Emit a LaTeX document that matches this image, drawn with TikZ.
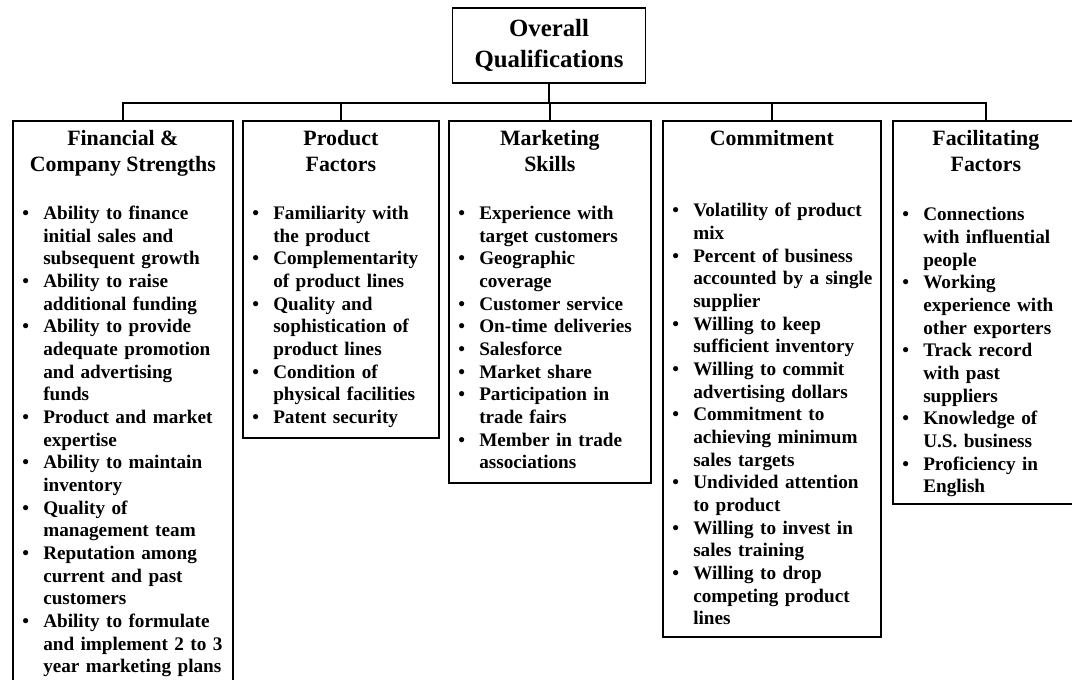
\documentclass[tikz,border=0pt]{standalone}
\usepackage{fontspec}
\setmainfont{Liberation Serif}
\usetikzlibrary{positioning}
\tikzset{
	catbox/.style 2 args={draw,line width=1.3pt,anchor=north west,inner sep=0pt,minimum width=#1,minimum height=#2},
	head/.style={font=\fontsize{16.4}{20}\selectfont\bfseries,align=center,inner sep=0pt},
	items/.style={font=\fontsize{14.4}{17}\selectfont\bfseries,text width=#1,align=left,inner sep=0pt},
	wire/.style={line width=1.3pt}
}
\newcommand{\entry}[1]{{\let\\\newline\hyphenpenalty=10000\noindent\hangindent=15.75pt\hangafter=1\strut\makebox[15.75pt][l]{\textbullet}#1\par}}

\begin{document}
\begin{tikzpicture}[x=0.75pt,y=-0.75pt]
	\useasboundingbox (0,0) rectangle (1072,680);

	\node [draw,line width=1.3pt,minimum width=144.75pt,minimum height=56.25pt,align=center,font=\fontsize{18.6}{23.25}\selectfont\bfseries] (overall) at (549,45.5) {Overall\\Qualifications};

	\node [catbox={165pt}{420pt}] (fin) at (12,120) {};
	\node [catbox={147pt}{237.75pt}] (prod) at (242,120) {};
	\node [catbox={151.5pt}{271.5pt}] (mkt) at (448,120) {};
	\node [catbox={163.5pt}{387pt}] (com) at (662,120) {};
	\node [catbox={139.5pt}{287.25pt}] (fac) at (892,120) {};

	\node [head,below=4.7pt of fin.north] (fin-head) {\strut Financial \&\\Company Strengths};
	\node [head,below=4.7pt of prod.north] (prod-head) {\strut Product\\Factors};
	\node [head,below=4.7pt of mkt.north] (mkt-head) {\strut Marketing\\Skills};
	\node [head,below=4.7pt of com.north] (com-head) {\strut Commitment};
	\node [head,below=4.7pt of fac.north] (fac-head) {\strut Facilitating\\Factors};

	\node [items=190pt,below right=62.5pt and 7.5pt of fin.north west] (fin-list) {
		\entry{Ability to finance\\initial sales and\\subsequent growth}
		\entry{Ability to raise\\additional funding}
		\entry{Ability to provide\\adequate promotion\\and advertising\\funds}
		\entry{Product and market\\expertise}
		\entry{Ability to maintain\\inventory}
		\entry{Quality of\\management team}
		\entry{Reputation among\\current and past\\customers}
		\entry{Ability to formulate\\and implement 2 to 3\\year marketing plans}};
	\node [items=170pt,below right=62.5pt and 7.5pt of prod.north west] (prod-list) {
		\entry{Familiarity with\\the product}
		\entry{Complementarity\\of product lines}
		\entry{Quality and\\sophistication of\\product lines}
		\entry{Condition of\\physical facilities}
		\entry{Patent security}};
	\node [items=170pt,below right=62.5pt and 7.5pt of mkt.north west] (mkt-list) {
		\entry{Experience with\\target customers}
		\entry{Geographic\\coverage}
		\entry{Customer service}
		\entry{On-time deliveries}
		\entry{Salesforce}
		\entry{Market share}
		\entry{Participation in\\trade fairs}
		\entry{Member in trade\\associations}};
	\node [items=190pt,below right=60.5pt and 7.5pt of com.north west] (com-list) {
		\entry{Volatility of product\\mix}
		\entry{Percent of business\\accounted by a single\\supplier}
		\entry{Willing to keep\\sufficient inventory}
		\entry{Willing to commit\\advertising dollars}
		\entry{Commitment to\\achieving minimum\\sales targets}
		\entry{Undivided attention\\to product}
		\entry{Willing to invest in\\sales training}
		\entry{Willing to drop\\competing product\\lines}};
	\node [items=160pt,below right=63.5pt and 7.5pt of fac.north west] (fac-list) {
		\entry{Connections\\with influential\\people}
		\entry{Working\\experience with\\other exporters}
		\entry{Track record\\with past\\suppliers}
		\entry{Knowledge of\\U.S. business}
		\entry{Proficiency in\\English}};

	\coordinate (bus) at (549,103);
	\draw [wire] (overall.south) -- (overall.south |- bus);
	\draw [wire] (fin.north) |- (bus) -| (fac.north);
	\foreach \n in {prod,mkt,com}
		\draw [wire] (\n.north) -- (\n.north |- bus);
\end{tikzpicture}
\end{document}
